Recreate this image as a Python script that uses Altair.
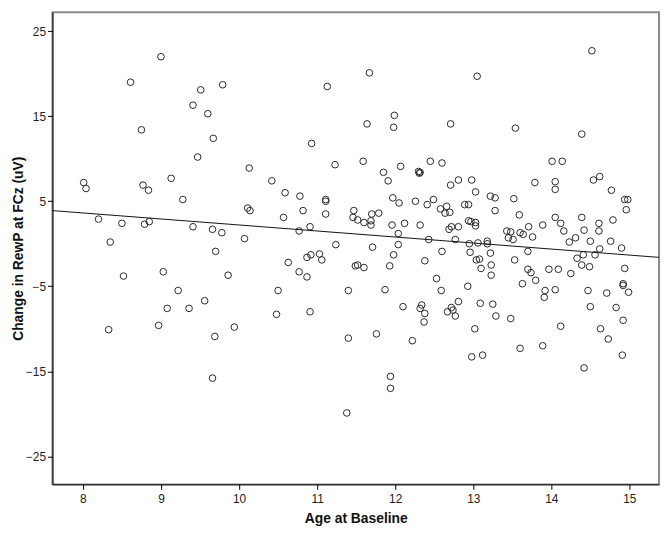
import altair as alt
import pandas as pd

# Age at baseline (years)
age = [
    9.00, 8.61, 9.79, 9.51, 9.41, 9.60, 8.75, 9.67, 9.47, 10.13, 9.13, 8.01, 8.04, 8.77, 8.84, 9.28,
    10.11, 10.14, 8.20, 8.50, 8.79, 8.85, 9.41, 9.66, 9.78, 10.07, 8.35, 9.70,
    8.52, 9.03, 9.86, 9.22, 9.56, 9.08, 9.36, 8.97, 8.33, 9.94, 9.69, 9.66,
    11.67, 11.13, 11.99, 11.64, 11.98, 12.71, 10.93, 11.23, 11.59, 11.85, 12.07, 12.30, 12.31, 12.32,
    12.45, 12.60, 11.91, 12.71, 12.81, 10.42, 10.59, 10.78, 11.11, 11.11, 10.82, 10.57, 11.11, 11.97,
    12.05, 12.26, 12.49, 12.41, 12.58, 12.66, 12.64, 12.70, 11.47, 11.46, 11.52, 11.60, 11.69, 11.69,
    11.70, 11.79, 11.96, 12.12, 12.32, 12.04, 10.91, 10.77, 12.69, 12.72, 12.81, 12.43, 12.77, 11.24,
    11.71, 12.04, 12.60,
    14.52, 13.05, 13.54, 14.39, 14.01, 14.14, 13.79, 14.05, 14.05, 14.54, 14.62, 14.77, 14.94, 14.98,
    14.96, 12.98, 13.03, 13.22, 13.28, 13.52, 12.89, 12.94, 13.28, 13.59, 12.94, 12.97, 13.03, 13.03,
    14.05, 14.12, 14.16, 13.89, 13.71, 13.76, 13.43, 13.48, 13.45, 13.51, 13.60, 13.64, 14.39, 14.42,
    14.61, 14.61, 14.79, 14.31, 14.23, 14.50, 14.76, 14.90, 14.62, 14.56, 14.41, 14.33, 13.70, 13.22,
    12.95, 13.06, 13.18, 13.18, 12.96, 13.04, 13.08, 13.53,
    13.10, 13.23, 13.23, 13.70, 13.74, 13.63, 13.80, 13.97, 14.09, 14.25, 14.39, 14.49, 14.94, 14.92,
    14.92, 14.99, 14.71, 14.47, 14.50, 14.83, 14.92, 14.63, 14.73, 14.91, 14.42, 14.12, 13.89, 13.60,
    13.92, 13.91, 14.05, 13.48, 13.29, 13.25, 13.09, 13.02, 12.98, 13.12, 12.93, 12.81,
    10.63, 10.87, 10.92, 11.03, 11.06, 10.77, 10.87, 10.50, 10.48, 10.91, 11.40, 11.49, 11.52, 11.60,
    11.93, 11.98, 11.87, 12.10, 12.34, 12.32, 12.38, 12.37, 12.38, 12.53, 12.59, 12.67, 12.72, 12.74,
    12.77, 11.40, 11.76, 12.22, 11.94, 11.94, 11.38,
]

# Change in RewP at FCz (uV)
change = [
    22.0, 19.0, 18.7, 18.1, 16.3, 15.3, 13.4, 12.4, 10.2, 8.9, 7.7, 7.2, 6.5, 6.9, 6.3, 5.2,
    4.2, 3.9, 2.9, 2.4, 2.3, 2.6, 2.0, 1.7, 1.3, 0.6, 0.2, -0.9,
    -3.8, -3.3, -3.7, -5.5, -6.7, -7.6, -7.6, -9.6, -10.1, -9.8, -10.9, -15.8,
    20.1, 18.5, 15.1, 14.1, 13.7, 14.1, 11.8, 9.3, 9.7, 8.4, 9.1, 8.5, 8.3, 8.4,
    9.7, 9.5, 7.4, 6.9, 7.5, 7.4, 6.0, 5.6, 5.2, 5.0, 3.9, 3.1, 3.5, 5.4,
    4.8, 5.0, 5.2, 4.6, 4.1, 4.4, 3.6, 3.7, 3.9, 3.1, 2.8, 2.5, 2.7, 2.2,
    3.5, 3.6, 2.2, 2.4, 2.2, 1.2, 2.0, 1.5, 1.7, 2.0, 2.0, 0.5, 0.5, -0.1,
    -0.4, -0.1, -0.9,
    22.7, 19.7, 13.6, 12.9, 9.7, 9.7, 7.2, 7.3, 6.4, 7.5, 7.9, 6.3, 5.2, 5.2,
    4.0, 7.5, 6.1, 5.6, 5.4, 5.3, 4.6, 4.6, 3.9, 3.4, 2.7, 2.6, 2.5, 2.1,
    3.1, 2.4, 1.5, 2.2, 2.0, 0.8, 1.5, 1.4, 0.7, 0.5, 1.3, 1.1, 3.1, 1.6,
    2.4, 1.5, 2.8, 0.7, 0.2, 0.3, 0.3, -0.5, -0.6, -1.3, -1.3, -1.7, -0.9, -1.1,
    0.0, 0.1, 0.3, 0.0, -1.0, -1.9, -1.8, -1.9,
    -2.9, -2.5, -3.7, -3.0, -3.4, -4.7, -4.3, -3.0, -3.0, -3.5, -2.5, -2.7, -2.9, -4.7,
    -4.9, -5.7, -5.8, -5.5, -7.4, -7.5, -9.0, -10.0, -11.2, -13.1, -14.6, -9.7, -12.0, -12.3,
    -5.5, -6.3, -5.4, -8.8, -8.5, -7.1, -7.0, -10.0, -13.3, -13.1, -5.0, -6.8,
    -2.2, -1.6, -1.3, -1.2, -1.9, -3.3, -3.9, -5.5, -8.3, -8.0, -5.5, -2.6, -2.5, -2.8,
    -2.6, -1.3, -5.4, -7.4, -7.2, -7.6, -8.2, -9.2, -2.0, -4.1, -5.5, -8.0, -7.5, -7.8,
    -8.5, -11.1, -10.6, -11.4, -15.6, -17.0, -19.9,
]

# Fit line endpoints
fit_age = [7.61, 15.38]
fit_change = [3.9, -1.6]

x_ticks = [8, 9, 10, 11, 12, 13, 14, 15]
y_ticks = [-25, -15, -5, 5, 15, 25]

pts = pd.DataFrame({"age": age, "change": change})
fit = pd.DataFrame({"age": fit_age, "change": fit_change})

xs = alt.Scale(domain=[7.61, 15.38], nice=False, zero=False)
ys = alt.Scale(domain=[-28.3, 27.24], nice=False, zero=False)

x_axis = alt.Axis(values=x_ticks, format="d", title="Age at Baseline", grid=False, tickSize=5,
                  labelPadding=4, titlePadding=8)
y_axis = alt.Axis(values=y_ticks, format="d", title="Change in RewP at FCz (uV)", grid=False,
                  tickSize=5, labelPadding=2, titlePadding=0)

points = alt.Chart(pts).mark_point(shape="circle", filled=False, size=45,
                                   color="#2a2a2a", strokeWidth=1, opacity=1).encode(
    x=alt.X("age:Q", scale=xs, axis=x_axis),
    y=alt.Y("change:Q", scale=ys, axis=y_axis),
)

line = alt.Chart(fit).mark_line(color="#111111", strokeWidth=1).encode(
    x=alt.X("age:Q", scale=xs),
    y=alt.Y("change:Q", scale=ys),
)

chart = alt.layer(points, line).properties(
    width=614, height=478,
    autosize=alt.AutoSizeParams(type="none"),
    padding={"left": 45, "top": 1, "right": 3, "bottom": 45},
).configure_view(
    stroke="#8a8a8a", strokeWidth=2
).configure_axis(
    domainColor="#000000", domainWidth=1, tickColor="#000000",
    labelFont="Liberation Sans", labelFontSize=12, labelColor="#222222",
    titleFont="Liberation Sans", titleFontSize=14, titleFontWeight="bold", titleColor="#111111",
)

chart.save("out.html", embed_options={"renderer": "svg", "actions": False})
